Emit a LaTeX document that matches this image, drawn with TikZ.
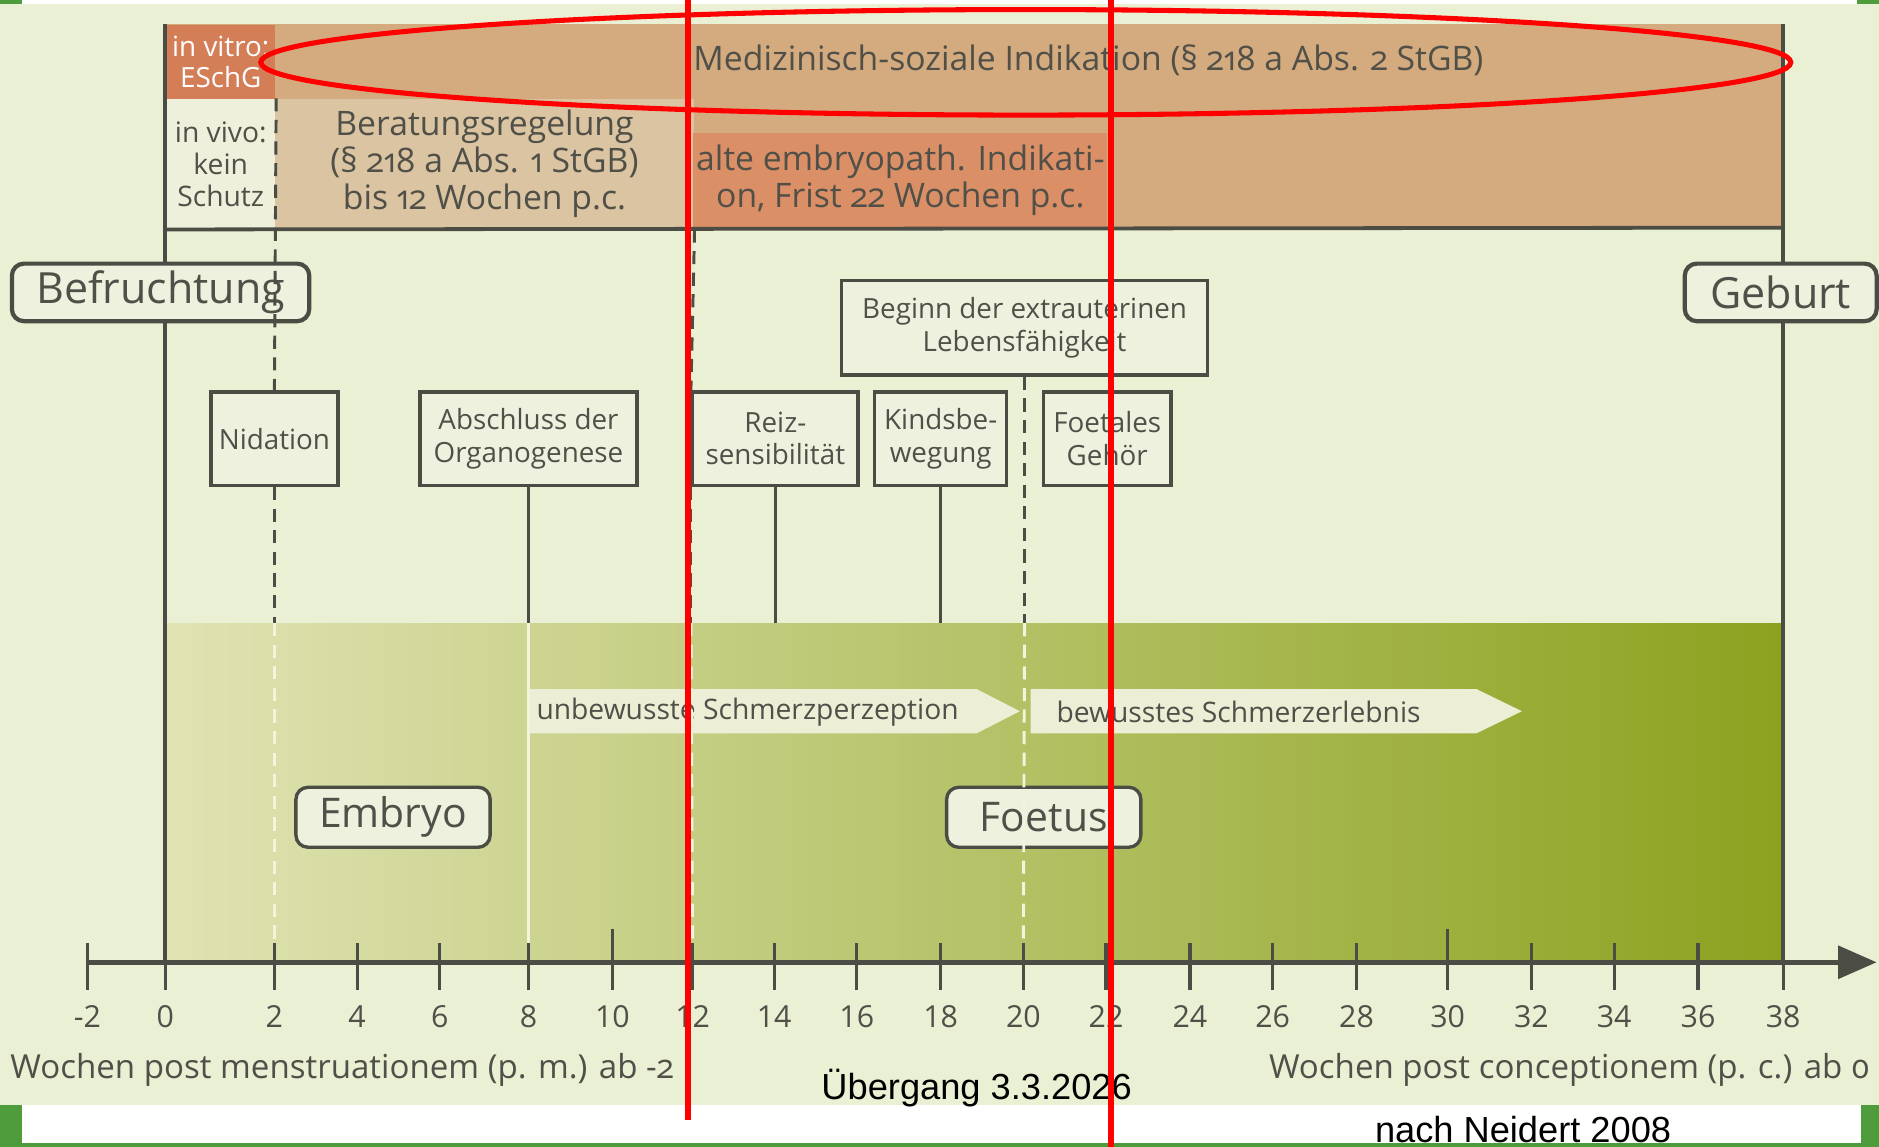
\documentclass[tikz,border=0pt]{standalone}
\usepackage{fontspec}
\setmainfont{Open Sans}
\newfontfamily\arialfont{Liberation Sans}
\usetikzlibrary{arrows.meta}

\definecolor{bgcol}{HTML}{EAF0D3}
\definecolor{boxcol}{HTML}{EEF1DE}
\definecolor{linecol}{HTML}{4B4C44}
\definecolor{txtcol}{HTML}{505048}
\definecolor{tancol}{HTML}{D4AA7F}
\definecolor{beracol}{HTML}{DBC4A1}
\definecolor{vitrocol}{HTML}{D47E58}
\definecolor{embrcol}{HTML}{DA8F66}
\definecolor{vivocol}{HTML}{EEF0DC}
\definecolor{arrowcol}{HTML}{ECEFD6}
\definecolor{creamcol}{HTML}{F4F3DC}
\definecolor{framecol}{HTML}{4E9C3C}
\definecolor{greenA}{HTML}{E0E3B3}
\definecolor{greenB}{HTML}{BEC670}
\definecolor{greenC}{HTML}{8CA21F}

\newcommand{\osf}[1]{{\addfontfeatures{Numbers=OldStyle}#1}}

\tikzset{
  border/.style={draw=linecol, line width=0.9pt},
  conn/.style={draw=linecol, line width=0.7pt},
  dashline/.style={conn, dash pattern=on 0.11cm off 0.07cm},
  creamline/.style={draw=creamcol, line width=0.7pt},
  creamdash/.style={creamline, dash pattern=on 0.11cm off 0.07cm},
  cell/.style={anchor=north west, inner sep=0pt, align=center, text=txtcol},
  event/.style={draw=linecol, line width=0.8pt, fill=boxcol, text=txtcol, align=center,
    inner sep=0pt, minimum height=0.78cm, font=\fontsize{6.6}{7.7}\selectfont},
  stage/.style={draw=linecol, line width=1pt, fill=boxcol, rounded corners=0.1cm,
    text=txtcol, inner sep=0pt, minimum height=0.48cm},
  tickmark/.style={draw=linecol, line width=0.75pt},
  redmark/.style={draw=red, line width=1.4pt},
}

\begin{document}
\begin{tikzpicture}[x=0.01cm, y=-0.01cm]
  \useasboundingbox (0,0) rectangle (1568,957);

  % frame
  \fill[white] (0,0) rectangle (1568,957);
  \fill[bgcol] (0,3) rectangle (1568,922);
  \fill[framecol] (0,0) rectangle (18,3);
  \fill[framecol] (1550,0) rectangle (1568,3);
  \fill[framecol] (0,922) rectangle (18,957);
  \fill[framecol] (1553,922) rectangle (1568,957);
  \fill[framecol] (0,954) rectangle (1568,957);

  % legal band
  \coordinate (bandNE) at (1488,20);
  \coordinate (bandSE) at (1488,190);
  \fill[tancol] (138,20) rectangle (bandSE);
  \node[cell, fill=vitrocol, text=white, minimum width=0.91cm, minimum height=0.62cm,
    font=\fontsize{6.6}{7.4}\selectfont] (vitro) at (138,20) {in vitro:\\ESchG};
  \node[cell, fill=vivocol, minimum width=0.91cm, minimum height=1.08cm,
    font=\fontsize{6.7}{7.6}\selectfont] (vivo) at (138,82) {in vivo:\\kein\\Schutz};
  \node[cell, fill=beracol, minimum width=3.49cm, minimum height=1.08cm,
    font=\fontsize{8}{8.8}\selectfont] (bera) at (229,82)
    {Beratungsregelung\\(§ \osf{218} a Abs. \osf{1} StGB)\\bis \osf{12} Wochen p.c.};
  \node[cell, fill=embrcol, minimum width=3.45cm, minimum height=0.80cm,
    font=\fontsize{8}{8.8}\selectfont] (embr) at (578,110)
    {alte embryopath. Indikati-\\on, Frist \osf{22} Wochen p.c.};
  \node[anchor=west, inner sep=0pt, text=txtcol, font=\fontsize{8}{8.8}\selectfont]
    (medsoz) at (578,50) {Medizinisch-soziale Indikation (§ \osf{218} a Abs. \osf{2} StGB)};

  % green phase
  \coordinate (gtop) at (0,520);
  \shade[left color=greenA, middle color=greenB, right color=greenC] (138,520) rectangle (1488,803);
  \fill[arrowcol] (441,575) -- (815,575) -- (851,593.5) -- (815,612) -- (441,612) -- cycle;
  \fill[arrowcol] (860,575) -- (1232,575) -- (1270,593.5) -- (1232,612) -- (860,612) -- cycle;
  \node[anchor=west, inner sep=0pt, text=txtcol, font=\fontsize{6.7}{8}\selectfont]
    (unbew) at (447,594) {unbewusste Schmerzperzeption};
  \node[anchor=west, inner sep=0pt, text=txtcol, font=\fontsize{6.7}{8}\selectfont]
    (bew) at (881,594) {bewusstes Schmerzerlebnis};

  % events
  \node[stage, minimum width=2.48cm, font=\fontsize{10.2}{12}\selectfont] (befr) at (134,244) {Befruchtung};
  \node[stage, minimum width=1.60cm, font=\fontsize{10.2}{12}\selectfont] (geb) at (1486,244) {Geburt};
  \node[event, minimum width=1.06cm] (nid) at (229,366) {Nidation};
  \node[event, minimum width=1.81cm] (org) at (441,366) {Abschluss der\\Organogenese};
  \node[event, minimum width=1.38cm] (reiz) at (647,366) {Reiz-\\sensibilität};
  \node[event, minimum width=1.10cm] (kinds) at (785,366) {Kindsbe-\\wegung};
  \node[event, minimum width=1.06cm] (gehoer) at (924,366) {Foetales\\Gehör};
  \node[event, minimum width=3.05cm, minimum height=0.79cm] (beginn) at (855,273.5)
    {Beginn der extrauterinen\\Lebensfähigkeit};
  \node[stage, line width=0.8pt, minimum width=1.62cm, minimum height=0.50cm,
    font=\fontsize{9.7}{11}\selectfont] (embryo) at (328,682) {Embryo};
  \node[stage, line width=0.8pt, minimum width=1.62cm, minimum height=0.50cm,
    font=\fontsize{9.7}{11}\selectfont] (foetus) at (871,682) {Foetus};

  % tick positions
  \foreach \v/\x/\top in {-2/73/787, 0/138/787, 2/229/787, 4/298/787, 6/367/787,
      8/441/787, 10/511/775, 12/578/787, 14/646/787, 16/715/787, 18/785/787,
      20/854/787, 22/923/787, 24/993/787, 26/1062/787, 28/1132/787, 30/1208/775,
      32/1278/787, 34/1347/787, 36/1417/787, 38/1488/787} {
    \coordinate (t\v) at (\x,803);
    \coordinate (u\v) at (\x,\top);
  }

  % connectors
  \draw[border] (vitro.north west) -- (vitro.north west |- befr.north);
  \draw[border] (vitro.north west |- befr.south) -- (t0);
  \draw[border] (bandNE) -- (bandNE |- geb.north);
  \draw[border] (bandNE |- geb.south) -- (t38);
  \draw[border] (vivo.south west) -- (bandSE);
  \draw[dashline] (vivo.north east) -- (nid.north);
  \draw[dashline] (nid.south) -- (nid.south |- gtop);
  \draw[creamdash] (nid.south |- gtop) -- (u2);
  \draw[conn] (org.south) -- (org.south |- gtop);
  \draw[creamline] (org.south |- gtop) -- (u8);
  \draw[dashline] (bera.south east) -- (reiz.north west);
  \draw[dashline] (reiz.south west) -- (reiz.south west |- gtop);
  \draw[creamdash] (reiz.south west |- gtop) -- (u12);
  \draw[conn] (reiz.south) -- (reiz.south |- gtop);
  \draw[conn] (kinds.south) -- (kinds.south |- gtop);
  \draw[dashline] (beginn.south) -- (beginn.south |- gtop);
  \draw[creamdash] (beginn.south |- gtop) -- (u20);

  % axis
  \coordinate (axEnd) at (1566,803);
  \draw[draw=linecol, line width=1.1pt, -{Triangle[length=0.32cm, width=0.27cm]}] (t-2) -- (axEnd);
  \foreach \v/\x/\top in {-2/73/787, 0/138/787, 2/229/787, 4/298/787, 6/367/787,
      8/441/787, 10/511/775, 12/578/787, 14/646/787, 16/715/787, 18/785/787,
      20/854/787, 22/923/787, 24/993/787, 26/1062/787, 28/1132/787, 30/1208/775,
      32/1278/787, 34/1347/787, 36/1417/787, 38/1488/787} {
    \draw[tickmark] (u\v) -- (\x,826);
    \node[text=txtcol, inner sep=0pt, font=\fontsize{7.2}{8}\selectfont] (l\v) at (\x,848) {\v};
  }
  \node[anchor=west, inner sep=0pt, text=txtcol, font=\fontsize{7.85}{9}\selectfont]
    (pm) at (8,893) {Wochen post menstruationem (p. m.) ab \osf{-2}};
  \node[anchor=east, inner sep=0pt, text=txtcol, font=\fontsize{7.85}{9}\selectfont]
    (pc) at (1561,893) {Wochen post conceptionem (p. c.) ab \osf{0}};

  % later marks
  \node[inner sep=0pt, font=\arialfont\fontsize{8.6}{10}\selectfont] (uebergang) at (815,908) {Übergang 3.3.2026};
  \node[inner sep=0pt, font=\arialfont\fontsize{8.6}{10}\selectfont] (neidert) at (1271,943) {nach Neidert 2008};
  \draw[redmark, line width=1.2pt] (856,52) ellipse [x radius=6.38cm, y radius=0.44cm];
  \draw[redmark] (574,0) -- (574,935);
  \draw[redmark] (927,0) -- (927,957);
\end{tikzpicture}
\end{document}
